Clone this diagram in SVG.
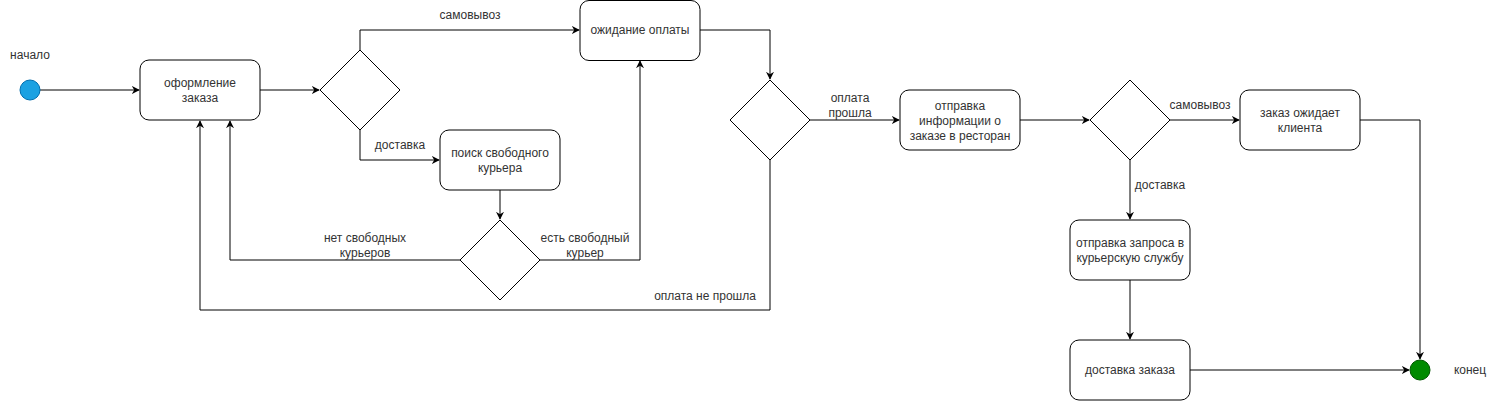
<svg xmlns="http://www.w3.org/2000/svg" width="1500" height="401" viewBox="0 0 1500 401">
<style>
.n{fill:#fff;stroke:#000;stroke-width:1}
.t{font-family:"Liberation Sans",Arial,sans-serif;font-size:12px;fill:#333;text-anchor:middle}
.c{fill:none;stroke:#000;stroke-width:1}
</style>
<defs>
<marker id="a" viewBox="0 0 10 10" refX="9" refY="5" markerWidth="8" markerHeight="8" markerUnits="userSpaceOnUse" orient="auto">
<path d="M0,0 L10,5 L0,10 L3,5 z" fill="#000"/>
</marker>
</defs>
<rect width="1500" height="401" fill="#fff"/>
<g id="connectors">
<path class="c" marker-end="url(#a)" d="M40,90 H139"/>
<path class="c" marker-end="url(#a)" d="M260,90 H319"/>
<path class="c" marker-end="url(#a)" d="M360,50 V30 H579"/>
<path class="c" marker-end="url(#a)" d="M360,130 V160 H439"/>
<path class="c" marker-end="url(#a)" d="M500,190 V219"/>
<path class="c" marker-end="url(#a)" d="M460,260 H230 V121"/>
<path class="c" marker-end="url(#a)" d="M540,260 H640 V61"/>
<path class="c" marker-end="url(#a)" d="M700,30 H770 V79"/>
<path class="c" marker-end="url(#a)" d="M770,160 V310 H200 V121"/>
<path class="c" marker-end="url(#a)" d="M810,120 H899"/>
<path class="c" marker-end="url(#a)" d="M1020,120 H1089"/>
<path class="c" marker-end="url(#a)" d="M1170,120 H1239"/>
<path class="c" marker-end="url(#a)" d="M1360,120 H1420 V359"/>
<path class="c" marker-end="url(#a)" d="M1130,160 V219"/>
<path class="c" marker-end="url(#a)" d="M1130,280 V339"/>
<path class="c" marker-end="url(#a)" d="M1190,370 H1409"/>
<text class="t" x="470" y="19">самовывоз</text>
<text class="t" x="400" y="149">доставка</text>
<text class="t" x="365" y="242">нет свободных</text>
<text class="t" x="365" y="257">курьеров</text>
<text class="t" x="585" y="242">есть свободный</text>
<text class="t" x="585" y="257">курьер</text>
<text class="t" x="705" y="300">оплата не прошла</text>
<text class="t" x="850" y="102">оплата</text>
<text class="t" x="850" y="117">прошла</text>
<text class="t" x="1200" y="109">самовывоз</text>
<text class="t" x="1160" y="189">доставка</text>
</g>
<g id="start">
<circle cx="30" cy="90" r="10" fill="#1ba1e2" stroke="#006eaf"/>
<text class="t" x="30" y="59">начало</text>
</g>
<g id="oformlenie">
<rect class="n" x="140" y="60" width="120" height="60" rx="9"/>
<text class="t" x="200" y="87">оформление</text>
<text class="t" x="200" y="102">заказа</text>
</g>
<g id="dec1"><path class="n" d="M360,50 L400,90 L360,130 L320,90 Z"/></g>
<g id="ozhidanie">
<rect class="n" x="580" y="0.5" width="120" height="60" rx="9"/>
<text class="t" x="640" y="34">ожидание оплаты</text>
</g>
<g id="poisk">
<rect class="n" x="440" y="130" width="120" height="60" rx="9"/>
<text class="t" x="500" y="157">поиск свободного</text>
<text class="t" x="500" y="172">курьера</text>
</g>
<g id="dec2"><path class="n" d="M500,220 L540,260 L500,300 L460,260 Z"/></g>
<g id="dec3"><path class="n" d="M770,80 L810,120 L770,160 L730,120 Z"/></g>
<g id="otpravka_info">
<rect class="n" x="900" y="90" width="120" height="60" rx="9"/>
<text class="t" x="960" y="110">отправка</text>
<text class="t" x="960" y="125">информации о</text>
<text class="t" x="960" y="140">заказе в ресторан</text>
</g>
<g id="dec4"><path class="n" d="M1130,80 L1170,120 L1130,160 L1090,120 Z"/></g>
<g id="zakaz_ozhidaet">
<rect class="n" x="1240" y="90" width="120" height="60" rx="9"/>
<text class="t" x="1300" y="117">заказ ожидает</text>
<text class="t" x="1300" y="132">клиента</text>
</g>
<g id="otpravka_zaprosa">
<rect class="n" x="1070" y="220" width="120" height="60" rx="9"/>
<text class="t" x="1130" y="247">отправка запроса в</text>
<text class="t" x="1130" y="262">курьерскую службу</text>
</g>
<g id="dostavka_zakaza">
<rect class="n" x="1070" y="340" width="120" height="60" rx="9"/>
<text class="t" x="1130" y="374">доставка заказа</text>
</g>
<g id="end">
<circle cx="1420" cy="370" r="10" fill="#008a00" stroke="#005700"/>
<text class="t" x="1470" y="374">конец</text>
</g>
</svg>
